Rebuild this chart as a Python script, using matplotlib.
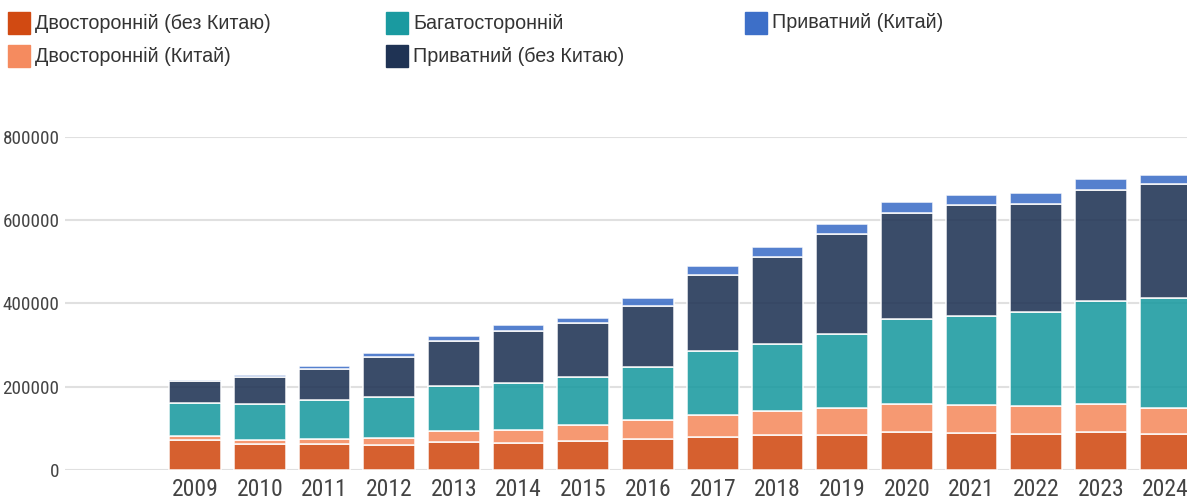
import matplotlib
matplotlib.use('Agg')
import matplotlib.pyplot as plt
from matplotlib import font_manager
import numpy as np
from matplotlib.patches import Rectangle

# data
years = ['2009', '2010', '2011', '2012', '2013', '2014', '2015', '2016',
         '2017', '2018', '2019', '2020', '2021', '2022', '2023', '2024']
bilateral_ex_china = [72500, 63000, 63000, 59500, 67500, 65000, 69000, 74500,
                      80000, 83000, 85000, 90500, 88000, 86500, 92000, 85500]
bilateral_china = [9500, 10000, 12500, 17500, 25000, 31500, 38000, 44500,
                   52000, 59500, 64500, 67500, 68000, 67000, 66000, 63500]
multilateral = [80000, 86000, 93000, 99500, 108500, 112500, 117000, 128000,
                153000, 161000, 177000, 205500, 214000, 225500, 248000, 264000]
private_ex_china = [53000, 64000, 74500, 96000, 110000, 126000, 129500, 146000,
                    183000, 208500, 239500, 254500, 266000, 261000, 267000, 274500]
private_china = [1500, 6000, 8000, 9500, 10000, 13000, 12500, 21000,
                 22000, 23000, 25500, 25000, 25000, 24500, 25000, 21500]

labels = ['Двосторонній (без Китаю)', 'Двосторонній (Китай)', 'Багатосторонній',
          'Приватний (без Китаю)', 'Приватний (Китай)']
colors = ['#D14A12', '#F58B5F', '#1A9AA0', '#1F3354', '#3D6FC8']
series = [bilateral_ex_china, bilateral_china, multilateral, private_ex_china, private_china]

# condensed font if there is one, else plain Roboto a bit smaller
installed = {f.name for f in font_manager.fontManager.ttflist}
if 'Roboto Condensed' in installed:
    tick_font, xsize, ysize = 'Roboto Condensed', 17, 13.8
else:
    tick_font, xsize, ysize = 'Roboto', 15.5, 12.2

fig = plt.figure(figsize=(11.87, 4.99), dpi=100)
ax = fig.add_axes([65 / 1187, 29 / 499, 1 - 65 / 1187, 333 / 499])

x = np.arange(len(years))
bottom = np.zeros(len(years))
for vals, c in zip(series, colors):
    ax.bar(x, vals, width=0.8, bottom=bottom, color=c, alpha=0.88,
           edgecolor='white', linewidth=1.2, zorder=3)
    bottom += np.array(vals)

ax.set_xlim(-2.01, 15.33)
ax.set_ylim(0, 800000)
ax.set_yticks([0, 200000, 400000, 600000, 800000])
ax.set_yticklabels(['0', '200000', '400000', '600000', '800000'])
ax.set_xticks(x)
ax.set_xticklabels(years)
ax.grid(axis='y', color='#E0E0E0', linewidth=1.5, zorder=0)
ax.set_axisbelow(True)
for s in ax.spines.values():
    s.set_visible(False)
ax.tick_params(axis='both', length=0, colors='#444444')
ax.tick_params(axis='y', pad=4, labelsize=ysize)
ax.tick_params(axis='x', pad=6, labelsize=xsize)
for t in ax.get_xticklabels() + ax.get_yticklabels():
    t.set_family(tick_font)

# legend, drawn by hand to match the uneven columns
legend_pos = [(8, 23), (8, 56), (386, 23), (386, 56), (745, 23)]
for (px, py), lab, c in zip(legend_pos, labels, colors):
    fig.patches.append(Rectangle((px / 1187, 1 - (py + 11) / 499), 22 / 1187, 22 / 499,
                                 transform=fig.transFigure, color=c, figure=fig))
    fig.text((px + 27) / 1187, 1 - py / 499, lab, fontsize=14.2,
             family='Liberation Sans', color='#333333', va='center', ha='left')

fig.savefig('out.png', dpi=100)
